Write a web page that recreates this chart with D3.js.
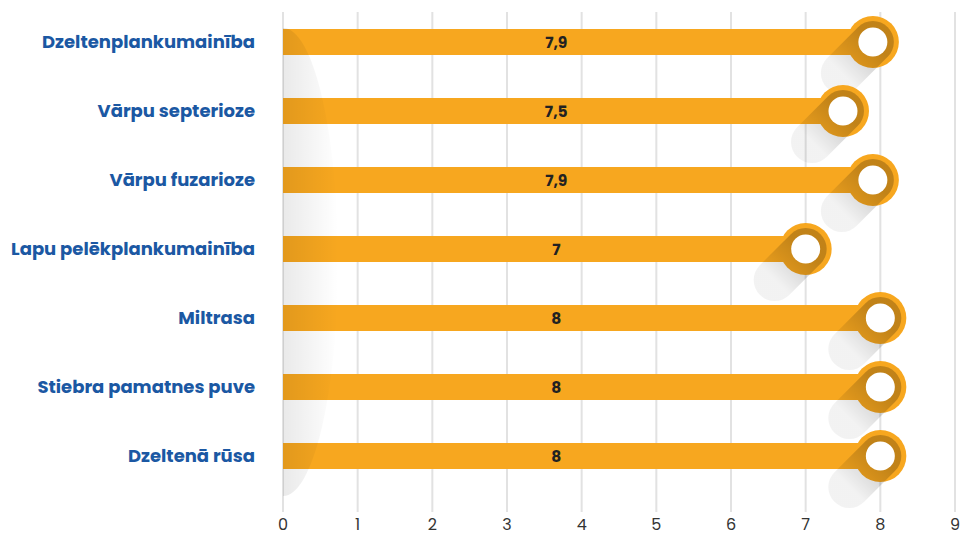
<!DOCTYPE html>
<html>
<head>
<meta charset="utf-8">
<script src="https://cdn.jsdelivr.net/npm/d3@7"></script>
<style>
  body { margin: 0; background: #fff; }
  svg { display: block; }
</style>
</head>
<body>
<script>
// data
var categories = ["Dzeltenplankumainība", "Vārpu septerioze", "Vārpu fuzarioze",
  "Lapu pelēkplankumainība", "Miltrasa", "Stiebra pamatnes puve", "Dzeltenā rūsa"];
var values = [7.9, 7.5, 7.9, 7, 8, 8, 8];
var valueLabels = ["7,9", "7,5", "7,9", "7", "8", "8", "8"];
var ticks = [0, 1, 2, 3, 4, 5, 6, 7, 8, 9];

var W = 960, H = 537, orange = "#f7a71f";

var svg = d3.select("body").append("svg")
  .attr("width", W).attr("height", H);

var x = d3.scaleLinear().domain([0, 9]).range([283, 955]);
var y = d3.scalePoint().domain(categories).range([42, 456]);

var defs = svg.append("defs");
// diagonal shadow behind the rings
var sg = defs.append("linearGradient").attr("id", "shade")
  .attr("x1", 1).attr("y1", 0).attr("x2", 0).attr("y2", 1);
sg.append("stop").attr("offset", 0).attr("stop-color", "#000").attr("stop-opacity", 0.22);
sg.append("stop").attr("offset", 1).attr("stop-color", "#000").attr("stop-opacity", 0.05);
// shadow at the left edge
var lg = defs.append("linearGradient").attr("id", "leftshade")
  .attr("x1", 0).attr("y1", 0).attr("x2", 1).attr("y2", 0);
lg.append("stop").attr("offset", 0).attr("stop-color", "#000").attr("stop-opacity", 0.32);
lg.append("stop").attr("offset", 0.3).attr("stop-color", "#000").attr("stop-opacity", 0.12);
lg.append("stop").attr("offset", 1).attr("stop-color", "#000").attr("stop-opacity", 0);
defs.append("clipPath").attr("id", "rightHalf")
  .append("rect").attr("x", x(0)).attr("y", 0).attr("width", 200).attr("height", H);

// gridlines
svg.append("g").selectAll("line").data(ticks).join("line")
  .attr("x1", d => x(d)).attr("x2", d => x(d))
  .attr("y1", 12).attr("y2", 512)
  .attr("stroke", "#e2e2e2").attr("stroke-width", 2);

// tick labels
svg.append("g").selectAll("text").data(ticks).join("text")
  .attr("x", d => x(d)).attr("y", 530)
  .attr("text-anchor", "middle")
  .attr("font-family", "Poppins, 'Open Sans', sans-serif")
  .attr("font-size", 16).attr("fill", "#333")
  .text(d => d);

var rows = svg.append("g").selectAll("g").data(categories).join("g");

rows.append("rect")
  .attr("x", x(0)).attr("y", d => y(d) - 13)
  .attr("width", (d, i) => x(values[i]) - x(0)).attr("height", 26)
  .attr("fill", orange);

rows.append("circle")
  .attr("cx", (d, i) => x(values[i])).attr("cy", d => y(d))
  .attr("r", 26).attr("fill", orange);

rows.append("line")
  .attr("x1", (d, i) => x(values[i])).attr("y1", d => y(d))
  .attr("x2", (d, i) => x(values[i]) - 31).attr("y2", d => y(d) + 31)
  .attr("stroke", "url(#shade)").attr("stroke-width", 42)
  .attr("stroke-linecap", "round");

rows.append("circle")
  .attr("cx", (d, i) => x(values[i])).attr("cy", d => y(d))
  .attr("r", 14.5).attr("fill", "#fff");

rows.append("text")
  .attr("x", x(3.66)).attr("y", d => y(d) + 5.5)
  .attr("text-anchor", "middle")
  .attr("font-family", "Poppins, 'Open Sans', sans-serif")
  .attr("font-weight", 700).attr("font-size", 15.5).attr("fill", "#222")
  .text((d, i) => valueLabels[i]);

// category labels
svg.append("g").selectAll("text").data(categories).join("text")
  .attr("x", 255).attr("y", d => y(d) + 6)
  .attr("text-anchor", "end")
  .attr("font-family", "Poppins, 'Open Sans', sans-serif")
  .attr("font-weight", 700).attr("font-size", 18).attr("fill", "#1b58a3")
  .text(d => d);

// soft shadow along the zero line
svg.append("ellipse")
  .attr("cx", x(0)).attr("cy", 262).attr("rx", 55).attr("ry", 234)
  .attr("clip-path", "url(#rightHalf)")
  .attr("fill", "url(#leftshade)");
</script>
</body>
</html>
